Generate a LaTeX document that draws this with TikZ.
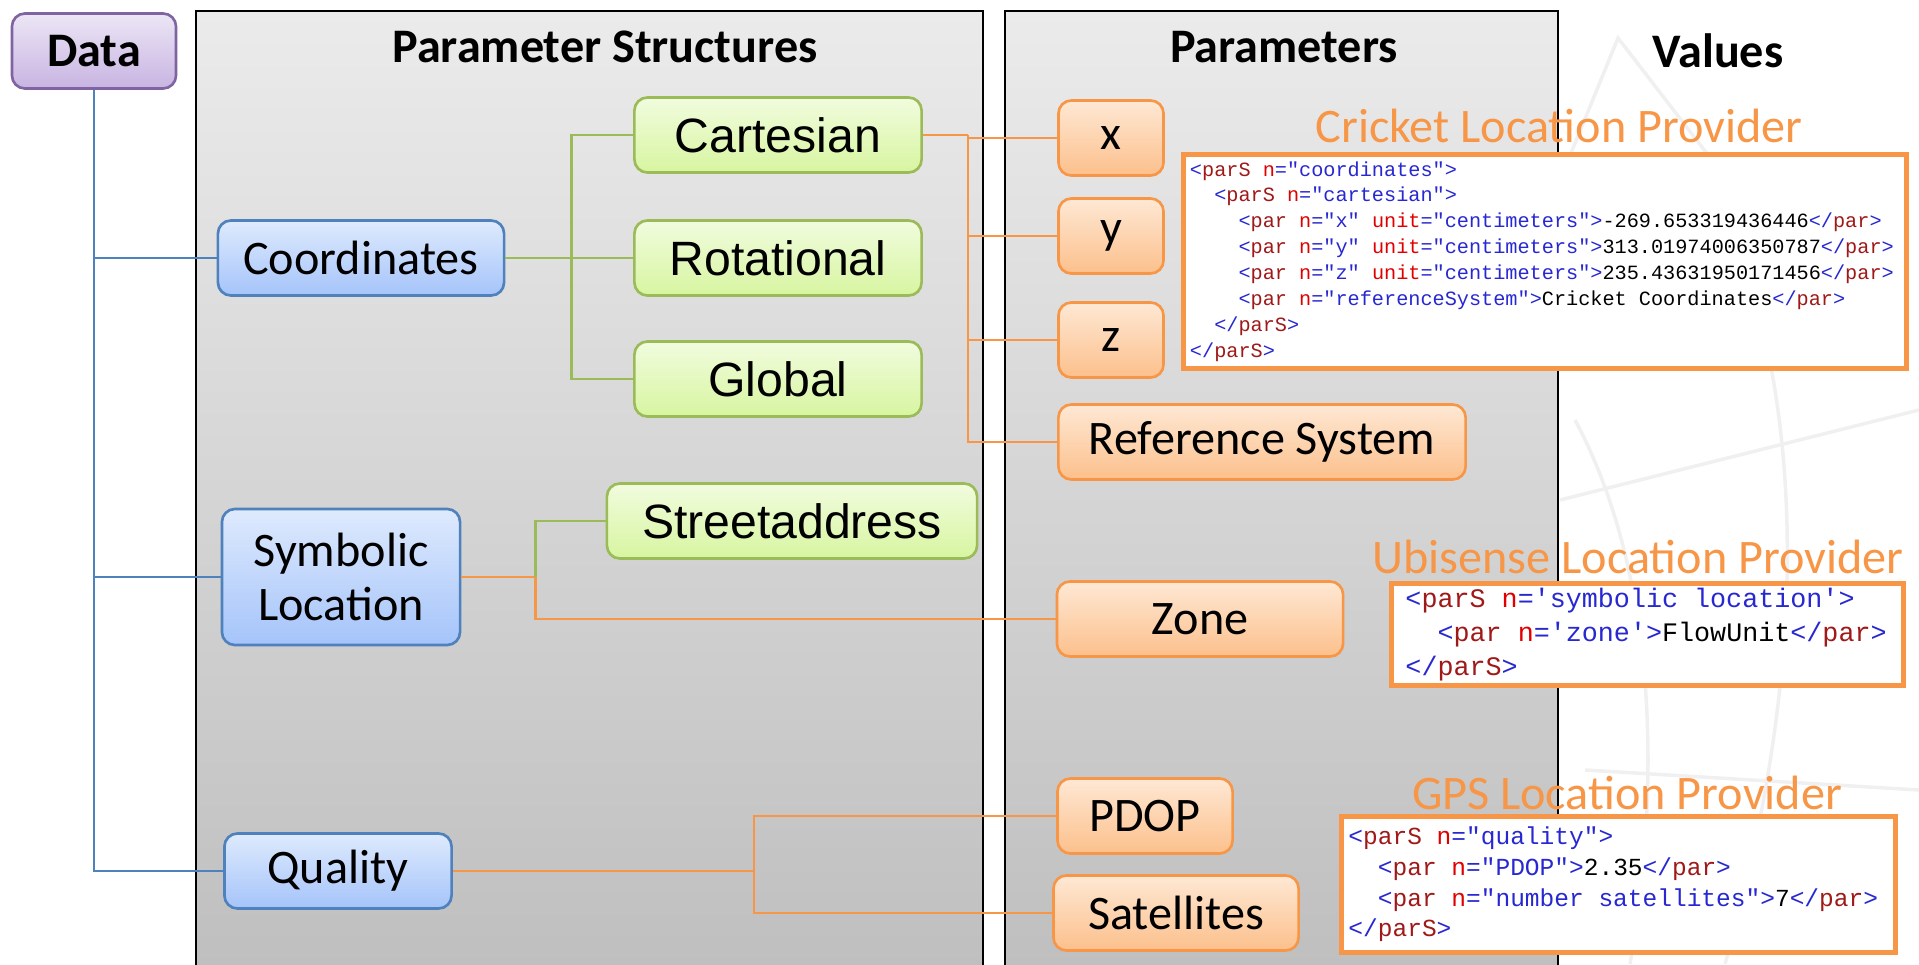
\documentclass[tikz,border=0pt]{standalone}
\usepackage{fontspec}
\setmainfont{Carlito}
\newfontfamily\arialfont{Liberation Sans}
\newfontfamily\codefont{Liberation Mono}

\definecolor{purpleTop}{RGB}{236,230,245}
\definecolor{purpleBot}{RGB}{200,180,226}
\definecolor{purpleLine}{RGB}{128,100,162}
\definecolor{blueTop}{RGB}{222,234,253}
\definecolor{blueBot}{RGB}{165,196,250}
\definecolor{blueLine}{RGB}{79,129,189}
\definecolor{greenTop}{RGB}{241,252,222}
\definecolor{greenBot}{RGB}{215,245,160}
\definecolor{greenLine}{RGB}{155,187,89}
\definecolor{orangeTop}{RGB}{254,232,212}
\definecolor{orangeBot}{RGB}{252,192,140}
\definecolor{orangeLine}{RGB}{247,150,70}
\definecolor{panelTop}{RGB}{235,235,235}
\definecolor{panelBot}{RGB}{190,190,190}
\definecolor{codeblue}{RGB}{40,40,210}
\definecolor{codetag}{RGB}{160,25,25}
\definecolor{codeattr}{RGB}{225,0,0}

\newcommand{\dq}{\symbol{34}}
\newcommand{\sq}{\symbol{39}}
\newcommand{\spc}{\phantom{0}}
\newcommand{\xo}[1]{\textcolor{codeblue}{<}\textcolor{codetag}{#1}}
\newcommand{\xa}[2]{\spc\textcolor{codeattr}{#1}\textcolor{codeblue}{=#2}}
\newcommand{\xe}{\textcolor{codeblue}{>}}
\newcommand{\xc}[1]{\textcolor{codeblue}{</}\textcolor{codetag}{#1}\textcolor{codeblue}{>}}

\tikzset{
  box/.style={rounded corners=0.13cm, line width=0.75pt, minimum height=0.75cm,
    inner sep=0pt, font=\fontsize{13.7}{15.4}\selectfont},
  databox/.style={box, draw=purpleLine, top color=purpleTop, bottom color=purpleBot,
    minimum width=1.64cm, font=\fontsize{13.7}{15.4}\selectfont\bfseries},
  structbox/.style={box, draw=blueLine, top color=blueTop, bottom color=blueBot},
  leafbox/.style={box, draw=greenLine, top color=greenTop, bottom color=greenBot,
    minimum width=2.87cm, font=\fontsize{13.7}{15.4}\selectfont\arialfont},
  parbox/.style={box, draw=orangeLine, top color=orangeTop, bottom color=orangeBot},
  panel/.style={draw=black, line width=0.7pt, top color=panelTop, bottom color=panelBot},
  title/.style={font=\fontsize{13.7}{15.4}\selectfont\bfseries},
  provider/.style={text=orangeLine, font=\fontsize{13.7}{15.4}\selectfont},
  codebox/.style={draw=orangeLine, line width=1.4pt, fill=white, anchor=north west,
    align=left, inner ysep=0pt, font=\codefont},
  blueline/.style={blueLine, line width=0.7pt},
  greenline/.style={greenLine, line width=0.7pt},
  orangeline/.style={orangeLine, line width=0.7pt}
}

\begin{document}
\begin{tikzpicture}[x=0.01cm,y=-0.01cm]
  \clip (0,0) rectangle (1919,964);
  % faint watermark
  \draw[black!6, line width=1pt] (1560,180) -- (1618,38) -- (1735,190);
  \draw[black!6, line width=1pt] (1575,420) .. controls (1650,560) and (1665,760) .. (1630,964);
  \draw[black!6, line width=1pt] (1740,250) .. controls (1810,450) and (1800,700) .. (1725,964);
  \draw[black!6, line width=1pt] (1560,500) -- (1919,410);
  \draw[black!6, line width=1pt] (1585,770) -- (1919,790);

  % columns
  \path[panel] (196,11) rectangle (983,990);
  \path[panel] (1005,11) rectangle (1558,990);
  \node[title] (tstruct) at (605,47) {Parameter Structures};
  \node[title] (tparam) at (1284,47) {Parameters};
  \node[title] (tvalue) at (1718,51) {Values};

  \node[databox] (data) at (94,51) {Data};

  \node[structbox, minimum width=2.86cm] (coord) at (361,258) {Coordinates};
  \node[structbox, minimum width=2.38cm, minimum height=1.36cm, align=center,
        font=\fontsize{13.7}{15.6}\selectfont] (sym) at (341,577) {Symbolic\\Location};
  \node[structbox, minimum width=2.27cm] (qual) at (338,871) {Quality};

  \node[leafbox] (cart) at (778,135) {Cartesian};
  \node[leafbox] (rot) at (778,258) {Rotational};
  \node[leafbox] (glob) at (778,379) {Global};
  \node[leafbox, minimum width=3.70cm] (street) at (792,521) {Streetaddress};

  \node[parbox, minimum width=1.05cm] (px) at (1111,138) {x};
  \node[parbox, minimum width=1.05cm] (py) at (1111,236) {y};
  \node[parbox, minimum width=1.05cm] (pz) at (1111,340) {z};
  \node[parbox, minimum width=4.07cm] (refsys) at (1262,442) {Reference System};
  \node[parbox, minimum width=2.86cm] (zone) at (1200,619) {Zone};
  \node[parbox, minimum width=1.75cm] (pdop) at (1145,816) {PDOP};
  \node[parbox, minimum width=2.45cm] (sat) at (1176,913) {Satellites};

  % connectors
  \draw[blueline] (data.south) |- (qual.west);
  \draw[blueline] (data.south) |- (coord.west);
  \draw[blueline] (data.south) |- (sym.west);

  \draw[greenline] (coord.east) -- ++(66,0) coordinate (cj);
  \foreach \n in {cart,rot,glob}
    \draw[greenline] (cj) |- (\n.west);

  \draw[orangeline] (cart.east) -- ++(45,0) coordinate (kj);
  \foreach \n in {px,py,pz,refsys}
    \draw[orangeline] (kj) |- (\n.west);

  \draw[orangeline] (sym.east) -- ++(74,0) coordinate (sj);
  \draw[greenline] (sj) |- (street.west);
  \draw[orangeline] (sj) |- (zone.west);

  \draw[orangeline] (qual.east) -- ++(301,0) coordinate (qj);
  \draw[orangeline] (qj) |- (pdop.west);
  \draw[orangeline] (qj) |- (sat.west);

  % values
  \node[provider] (lcricket) at (1559,126) {Cricket Location Provider};
  \node[codebox, minimum width=7.23cm, minimum height=2.14cm, text width=7.1cm,
        inner xsep=0.06cm, font=\codefont\fontsize{5.75}{7.37}\selectfont] (ccricket) at (1181,152) {%
    \xo{parS}\xa{n}{\dq coordinates\dq}\xe\\
    \phantom{00}\xo{parS}\xa{n}{\dq cartesian\dq}\xe\\
    \phantom{0000}\xo{par}\xa{n}{\dq x\dq}\xa{unit}{\dq centimeters\dq}\xe -269.653319436446\xc{par}\\
    \phantom{0000}\xo{par}\xa{n}{\dq y\dq}\xa{unit}{\dq centimeters\dq}\xe 313.01974006350787\xc{par}\\
    \phantom{0000}\xo{par}\xa{n}{\dq z\dq}\xa{unit}{\dq centimeters\dq}\xe 235.43631950171456\xc{par}\\
    \phantom{0000}\xo{par}\xa{n}{\dq referenceSystem\dq}\xe Cricket\spc Coordinates\xc{par}\\
    \phantom{00}\xc{parS}\\
    \xc{parS}};

  \node[provider] (lubi) at (1638,557) {Ubisense Location Provider};
  \node[codebox, minimum width=5.12cm, minimum height=1.02cm, text width=4.84cm,
        inner xsep=0.14cm, font=\codefont\fontsize{7.6}{9.67}\selectfont] (cubi) at (1389,581) {%
    \xo{parS}\xa{n}{\sq symbolic\spc location\sq}\xe\\
    \phantom{00}\xo{par}\xa{n}{\sq zone\sq}\xe FlowUnit\xc{par}\\
    \xc{parS}};

  \node[provider] (lgps) at (1627,793) {GPS Location Provider};
  \node[codebox, minimum width=5.54cm, minimum height=1.36cm, text width=5.4cm,
        inner xsep=0.07cm, font=\codefont\fontsize{6.97}{8.7}\selectfont] (cgps) at (1339,814) {%
    \xo{parS}\xa{n}{\dq quality\dq}\xe\\
    \phantom{00}\xo{par}\xa{n}{\dq PDOP\dq}\xe 2.35\xc{par}\\
    \phantom{00}\xo{par}\xa{n}{\dq number\spc satellites\dq}\xe 7\xc{par}\\
    \xc{parS}};
\end{tikzpicture}
\end{document}
